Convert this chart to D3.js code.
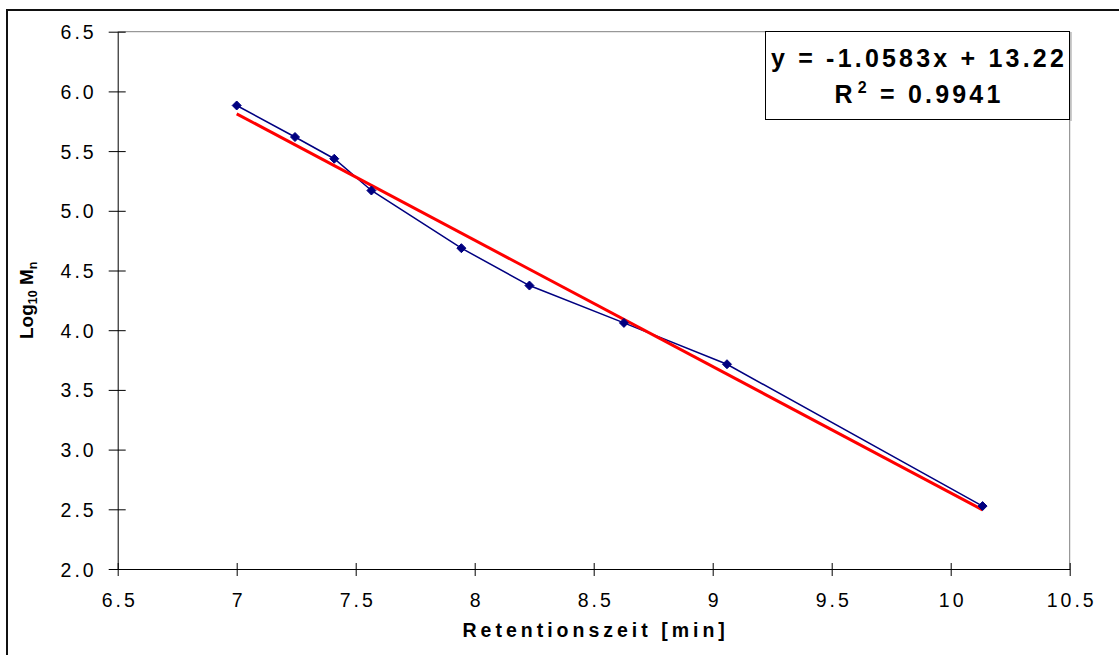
<!DOCTYPE html>
<html>
<head>
<meta charset="utf-8">
<script src="https://cdn.jsdelivr.net/npm/d3@7"></script>
<style>
  html, body { margin: 0; padding: 0; background: #fff; }
  svg { display: block; }
</style>
</head>
<body>
<svg id="chart"></svg>
<script>
const retention = [7.0, 7.245, 7.41, 7.566, 7.944, 8.23, 8.627, 9.06, 10.134];
const logMn = [5.882, 5.618, 5.436, 5.170, 4.687, 4.374, 4.061, 3.715, 2.527];
const xTicks = [6.5, 7, 7.5, 8, 8.5, 9, 9.5, 10, 10.5];
const yTicks = [2.0, 2.5, 3.0, 3.5, 4.0, 4.5, 5.0, 5.5, 6.0, 6.5];
const trendSlope = -1.0583;
const trendIntercept = 13.22;
const rSquared = "0.9941";

const width = 1119;
const height = 655;
const font = "'Liberation Sans', Arial, sans-serif";
const margin = {top: 31.7, right: 49.3, bottom: 86, left: 117.7};

const svg = d3.select('#chart')
    .attr("width", width)
    .attr("height", height)
    .style("font-family", font);

// outer chart frame (only left/top edges fall inside the picture)
svg.append("rect")
    .attr("x", 7).attr("y", 10)
    .attr("width", width + 20).attr("height", height + 20)
    .attr("fill", "#fff")
    .attr("stroke", "#111")
    .attr("stroke-width", 2);

const x = d3.scaleLinear()
    .domain([6.5, 10.5])
    .range([margin.left, width - margin.right]);

const y = d3.scaleLinear()
    .domain([2.0, 6.5])
    .range([height - margin.bottom, margin.top]);

// plot area frame, gray top/right
svg.append("path")
    .attr("d", `M${x(6.5)},${y(6.5)}H${x(10.5)}V${y(2.0)}`)
    .attr("fill", "none")
    .attr("stroke", "#808080")
    .attr("stroke-width", 1);

const xAxis = svg.append("g")
    .attr("transform", `translate(0,${y(2.0)})`)
    .call(d3.axisBottom(x).tickValues(xTicks).tickSizeInner(7).tickSizeOuter(0).tickFormat(d => d))
    .attr("font-family", font);
xAxis.select(".domain").attr("stroke", "#000");
xAxis.selectAll(".tick line").attr("stroke", "#000").attr("y1", -6).attr("y2", 7);
xAxis.selectAll(".tick text")
    .attr("y", 0).attr("dy", 0)
    .attr("transform", "translate(1.5,38)")
    .style("font-size", "19.5px")
    .style("letter-spacing", "3px")
    .attr("fill", "#000");

const yAxis = svg.append("g")
    .attr("transform", `translate(${x(6.5)},0)`)
    .call(d3.axisLeft(y).tickValues(yTicks).tickSizeInner(9).tickSizeOuter(0).tickFormat(d3.format(".1f")))
    .attr("font-family", font);
yAxis.select(".domain").attr("stroke", "#000");
yAxis.selectAll(".tick line").attr("stroke", "#000").attr("x1", -9).attr("x2", 8);
yAxis.selectAll(".tick text")
    .attr("x", -21).attr("dy", "0.36em")
    .style("font-size", "19.5px")
    .style("letter-spacing", "3px")
    .attr("fill", "#000");

// data line
const line = d3.line()
    .x((d, i) => x(retention[i]))
    .y(d => y(d));

svg.append("path")
    .datum(logMn)
    .attr("fill", "none")
    .attr("stroke", "#000080")
    .attr("stroke-width", 1.5)
    .attr("d", line);

// linear trend line
const xExt = d3.extent(retention);
svg.append("line")
    .attr("x1", x(xExt[0])).attr("y1", y(trendSlope * xExt[0] + trendIntercept))
    .attr("x2", x(xExt[1])).attr("y2", y(trendSlope * xExt[1] + trendIntercept))
    .attr("stroke", "#ff0000")
    .attr("stroke-width", 3);

svg.append("g")
    .selectAll("path")
    .data(logMn)
    .enter().append("path")
    .attr("transform", (d, i) => `translate(${x(retention[i])},${y(d)})`)
    .attr("d", "M0,-4.5L4.5,0L0,4.5L-4.5,0Z")
    .attr("fill", "#000080")
    .attr("stroke", "#000080")
    .attr("stroke-width", 1);

// equation box
const box = svg.append("g");
box.append("rect")
    .attr("x", 765.5).attr("y", 31.5)
    .attr("width", 304).attr("height", 88)
    .attr("fill", "#fff")
    .attr("stroke", "#000")
    .attr("stroke-width", 1);
box.append("line")
    .attr("x1", 1071).attr("y1", 32).attr("x2", 1071).attr("y2", 121)
    .attr("stroke", "#999");
box.append("text")
    .attr("x", 919).attr("y", 66.5)
    .attr("text-anchor", "middle")
    .style("font-size", "25px")
    .style("font-weight", "bold")
    .style("letter-spacing", "3.2px")
    .text(`y = ${trendSlope}x + ${trendIntercept}`);
const r2 = box.append("text")
    .attr("x", 919).attr("y", 103)
    .attr("text-anchor", "middle")
    .style("font-size", "25px")
    .style("font-weight", "bold")
    .style("letter-spacing", "3.2px");
r2.append("tspan").text("R");
r2.append("tspan").attr("dy", -10).attr("dx", 2).style("font-size", "16px").text("2");
r2.append("tspan").attr("dy", 10).text(` = ${rSquared}`);

// axis titles
svg.append("text")
    .attr("x", x(8.5) + 2).attr("y", 637)
    .attr("text-anchor", "middle")
    .style("font-size", "19.5px")
    .style("font-weight", "bold")
    .style("letter-spacing", "4px")
    .text("Retentionszeit [min]");

const yt = svg.append("text")
    .attr("transform", `translate(33,${(y(2.0) + y(6.5)) / 2}) rotate(-90)`)
    .attr("text-anchor", "middle")
    .style("font-size", "19px")
    .style("font-weight", "bold");
yt.append("tspan").text("Log");
yt.append("tspan").attr("dy", 4).style("font-size", "12.5px").text("10");
yt.append("tspan").attr("dy", -4).text(" M");
yt.append("tspan").attr("dy", 4).style("font-size", "12.5px").text("n");
</script>
</body>
</html>
